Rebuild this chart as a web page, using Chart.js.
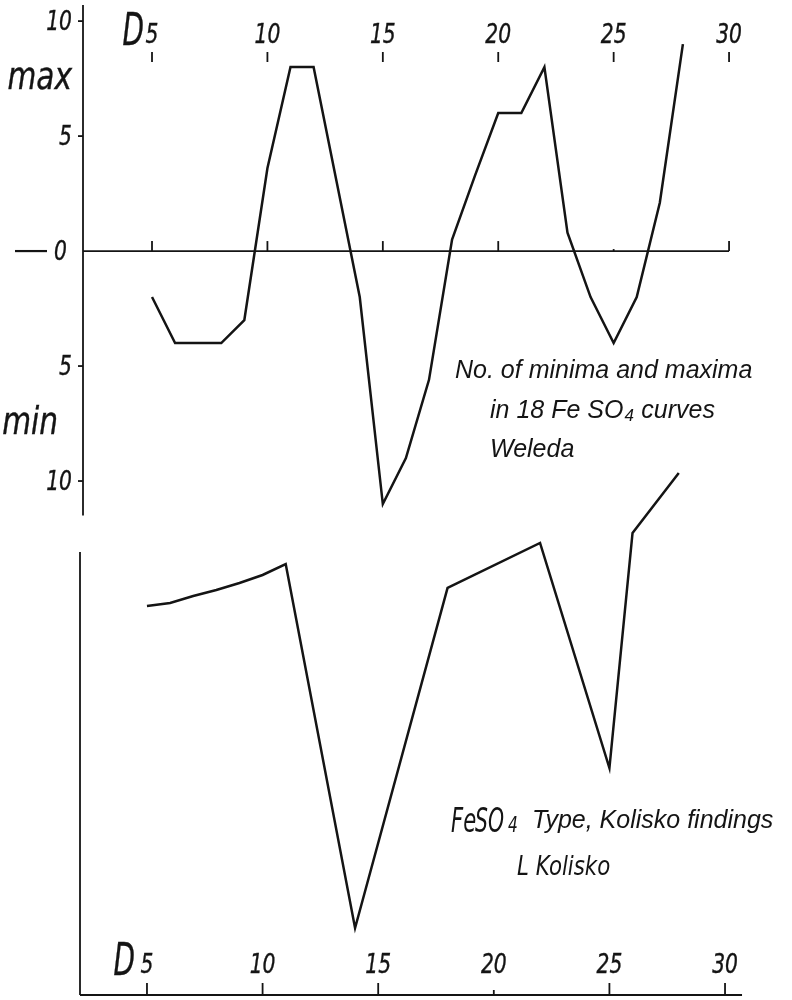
<!DOCTYPE html>
<html>
<head>
<meta charset="utf-8">
<script src="https://cdn.jsdelivr.net/npm/chart.js@4.4.0/dist/chart.umd.min.js"></script>
<style>
  html, body { margin: 0; padding: 0; background: #fff; }
</style>
</head>
<body>
<canvas id="myChart" width="792" height="1000"></canvas>
<script>
// upper curve: no. of minima / maxima per day (Weleda)
const weledaDays = [5, 6, 7, 8, 9, 10, 11, 12, 13, 14, 15, 16, 17, 18, 19, 20, 21, 22, 23, 24, 25, 26, 27, 28];
const weledaValues = [-2, -4, -4, -4, -3, 3.6, 8, 8, 3, -2, -11, -9, -5.6, 0.5, 3.3, 6, 6, 8, 0.8, -2, -4, -2, 2.1, 9];

// lower curve: FeSO4 type, Kolisko findings (no scale given, arbitrary units)
const koliskoDays = [5, 6, 7, 8, 9, 10, 11, 14, 18, 22, 25, 26, 28];
const koliskoValues = [38.9, 39.2, 39.9, 40.5, 41.2, 42.0, 43.1, 6.7, 40.7, 45.2, 22.7, 46.2, 52.2];

// axes
const dayTicks = [5, 10, 15, 20, 25, 30];
const dayTickLabels = ['5', '10', '15', '20', '25', '30'];
const countTicks = [10, 5, 0, -5, -10];
const countTickLabels = ['10', '5', '0', '5', '10'];

const ink = '#141414';

// hand lettered labels: narrow italic, optionally a bit heavier than the font
function hand(ctx, text, x, y, size, squeeze, align, weight) {
  const w = weight === undefined ? 0.4 : weight;
  ctx.save();
  ctx.font = 'italic ' + size + 'px "DejaVu Sans"';
  ctx.textAlign = align || 'center';
  ctx.textBaseline = 'alphabetic';
  ctx.translate(x, y);
  ctx.scale(squeeze, 1);
  ctx.fillText(text, 0, 0);
  if (w > 0) {
    ctx.lineWidth = w;
    ctx.strokeText(text, 0, 0);
  }
  ctx.restore();
}

function line(ctx, x1, y1, x2, y2) {
  ctx.beginPath();
  ctx.moveTo(x1, y1);
  ctx.lineTo(x2, y2);
  ctx.stroke();
}

const paperAxes = {
  id: 'paperAxes',
  afterDraw(chart) {
    const ctx = chart.ctx;
    const area = chart.chartArea;
    const xt = chart.scales.xTop, xb = chart.scales.xBot;
    const yt = chart.scales.yTop, yb = chart.scales.yBot;
    ctx.save();
    ctx.strokeStyle = ink;
    ctx.fillStyle = ink;
    ctx.lineWidth = 1.8;

    // upper chart frame
    const ax = area.left + 1;
    line(ctx, ax, yt.getPixelForValue(10.7), ax, yt.getPixelForValue(-11.5));
    const y0 = yt.getPixelForValue(0);
    line(ctx, ax, y0, xt.getPixelForValue(30), y0);
    dayTicks.forEach((d, i) => {
      const px = xt.getPixelForValue(d);
      line(ctx, px, y0, px, y0 - (d === 25 ? 2 : 10));
      line(ctx, px, area.top + 47, px, area.top + 57);
      hand(ctx, dayTickLabels[i], px, area.top + 38, 27, 0.75);
    });
    hand(ctx, 'D', xt.getPixelForValue(5) - 8, area.top + 40, 45, 0.62, 'right');

    // y labels of upper chart
    countTicks.forEach((v, i) => {
      const py = yt.getPixelForValue(v);
      if (v !== 0) line(ctx, ax - 5, py, ax, py);
      hand(ctx, countTickLabels[i], v === 0 ? 67 : 72, py + 9, 27, 0.75, 'right');
    });
    ctx.lineWidth = 2.2;
    line(ctx, 15, y0, 47, y0);
    hand(ctx, 'max', 72, yt.getPixelForValue(7.5) + 10, 37, 0.8, 'right');
    hand(ctx, 'min', 58, yt.getPixelForValue(-7.5) + 10, 37, 0.8, 'right');

    // lower chart frame
    ctx.lineWidth = 1.8;
    const bx = area.left - 2;
    const yBase = yb.getPixelForValue(0);
    line(ctx, bx, yb.getPixelForValue(44.3), bx, yBase);
    line(ctx, bx, yBase, xb.getPixelForValue(30) + 17, yBase);
    dayTicks.forEach((d, i) => {
      const px = xb.getPixelForValue(d);
      line(ctx, px, yBase, px, yBase - (d === 20 ? 5 : 12));
      hand(ctx, dayTickLabels[i], px, yBase - 22, 27, 0.75);
    });
    hand(ctx, 'D', xb.getPixelForValue(5) - 12, yBase - 20, 45, 0.62, 'right');

    // captions
    ctx.font = 'italic 25px "Liberation Sans", Arial, sans-serif';
    ctx.textAlign = 'left';
    ctx.textBaseline = 'alphabetic';
    ctx.fillText('No. of minima and maxima', 455, 378);
    ctx.fillText('in 18 Fe SO', 490, 418);
    let w = ctx.measureText('in 18 Fe SO').width;
    ctx.font = 'italic 17px "Liberation Sans", Arial, sans-serif';
    ctx.fillText('4', 490 + w + 1, 421);
    ctx.font = 'italic 25px "Liberation Sans", Arial, sans-serif';
    ctx.fillText(' curves', 490 + w + 11, 418);
    ctx.fillText('Weleda', 490, 457);

    hand(ctx, 'Fe', 451, 832, 34, 0.62, 'left', 0);
    hand(ctx, 'SO', 475, 832, 34, 0.6, 'left', 0);
    hand(ctx, '4', 508, 832, 22, 0.7, 'left', 0);
    ctx.font = 'italic 25px "Liberation Sans", Arial, sans-serif';
    ctx.textAlign = 'left';
    ctx.fillText('Type, Kolisko findings', 532, 828);
    hand(ctx, 'L Kolisko', 517, 875, 26, 0.82, 'left', 0);

    ctx.restore();
  }
};

const ctx = document.getElementById('myChart').getContext('2d');
new Chart(ctx, {
  type: 'line',
  data: {
    datasets: [
      {
        label: 'Weleda',
        data: weledaDays.map((d, i) => ({ x: d, y: weledaValues[i] })),
        xAxisID: 'xTop',
        yAxisID: 'yTop',
        borderColor: ink,
        borderWidth: 2.5,
        borderJoinStyle: 'miter',
        pointRadius: 0,
        tension: 0,
        fill: false,
        clip: false
      },
      {
        label: 'Kolisko',
        data: koliskoDays.map((d, i) => ({ x: d, y: koliskoValues[i] })),
        xAxisID: 'xBot',
        yAxisID: 'yBot',
        borderColor: ink,
        borderWidth: 2.5,
        borderJoinStyle: 'miter',
        pointRadius: 0,
        tension: 0,
        fill: false,
        clip: false
      }
    ]
  },
  options: {
    responsive: false,
    animation: false,
    events: [],
    layout: { padding: { left: 82, right: 2, top: 5, bottom: 5 } },
    plugins: { legend: { display: false }, tooltip: { enabled: false } },
    scales: {
      xTop: { type: 'linear', display: false, min: 1.967, max: 32.64 },
      xBot: { type: 'linear', display: false, min: 2.19, max: 32.81 },
      yTop: { type: 'linear', display: false, min: -32.35, max: 10.7 },
      yBot: { type: 'linear', display: false, min: 0, max: 99 }
    }
  },
  plugins: [paperAxes]
});
</script>
</body>
</html>
